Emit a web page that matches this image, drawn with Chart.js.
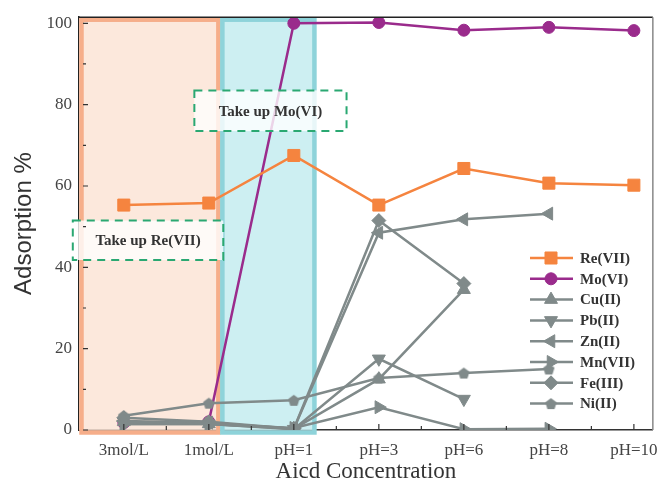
<!DOCTYPE html>
<html>
<head>
<meta charset="utf-8">
<script src="https://cdn.jsdelivr.net/npm/chart.js@4.4.0/dist/chart.umd.min.js"></script>
<style>
html, body { margin: 0; padding: 0; background: #fff; }
#wrap { width: 668px; height: 488px; }
</style>
</head>
<body>
<div id="wrap"><canvas id="c" width="668" height="488"></canvas></div>
<script>
// values
const categories = ['3mol/L', '1mol/L', 'pH=1', 'pH=3', 'pH=6', 'pH=8', 'pH=10'];
const reVII = [55.3, 55.8, 67.5, 55.3, 64.3, 60.7, 60.2];
const moVI  = [1.8, 2.0, 100, 100.2, 98.3, 99.0, 98.2];
const cuII  = [2.0, 1.5, 0.3, 12.5, 34.5, null, null];
const pbII  = [1.5, 1.5, 0.2, 17.5, 7.6, null, null];
const znII  = [2.2, 1.8, 0.3, 48.5, 51.8, 53.2, null];
const mnVII = [1.5, 1.5, 0.5, 5.6, 0.2, 0.3, null];
const feIII = [3.0, 2.0, 0.3, 51.5, 36.0, null, null];
const niII  = [3.5, 6.6, 7.3, 12.8, 14.0, 15.0, null];
const yTickValues = [0, 20, 40, 60, 80, 100];

const ORANGE = '#f5843f';
const PURPLE = '#9a2b8c';
const GRAY = '#808a8a';
const SERIF = '"Liberation Serif", "DejaVu Serif", serif';

function makePentagon(size, color) {
    const cv = document.createElement('canvas');
    cv.width = size; cv.height = size;
    const g = cv.getContext('2d');
    const r = size / 2;
    g.beginPath();
    for (let i = 0; i < 5; i++) {
        const a = -Math.PI / 2 + i * 2 * Math.PI / 5;
        const px = r + Math.cos(a) * (r - 0.5);
        const py = r + 0.6 + Math.sin(a) * (r - 0.5);
        if (i === 0) g.moveTo(px, py); else g.lineTo(px, py);
    }
    g.closePath();
    g.fillStyle = color;
    g.fill();
    return cv;
}

const toPoints = arr => arr.map((v, i) => ({ x: i, y: v }));

function series(label, values, color, style, radius, rotation, order) {
    return {
        label: label,
        data: toPoints(values),
        borderColor: color,
        backgroundColor: color,
        borderWidth: 2.5,
        pointStyle: style,
        pointRotation: rotation || 0,
        pointRadius: radius,
        pointHoverRadius: radius,
        pointBorderWidth: 1,
        tension: 0,
        spanGaps: false,
        order: order || 0
    };
}

const datasets = [
    series('Re(VII)', reVII, ORANGE, 'rect', 8.5),
    series('Mo(VI)', moVI, PURPLE, 'circle', 6, 0, 10),
    series('Cu(II)', cuII, GRAY, 'triangle', 7.5),
    series('Pb(II)', pbII, GRAY, 'triangle', 7.5, 180),
    series('Zn(II)', znII, GRAY, 'triangle', 7.5, 270),
    series('Mn(VII)', mnVII, GRAY, 'triangle', 7.5, 90),
    series('Fe(III)', feIII, GRAY, 'rectRot', 7),
    series('Ni(II)', niII, GRAY, makePentagon(13, GRAY), 6.5)
];

const X_MIN = -0.527, X_MAX = 6.223;
const xTickValues = [];
for (let v = 0; v <= 6; v += 0.5) xTickValues.push(v);

// shaded regions and annotation boxes (in data units)
const regions = [
    { x0: X_MIN, x1: 1.13, fill: 'rgba(252,228,214,0.85)', stroke: '#f6ae8a' },
    { x0: 1.13, x1: 2.26, fill: 'rgba(200,237,241,0.9)', stroke: '#8ed3da' }
];
const notes = [
    { text: 'Take up Mo(VI)', x0: 0.83, x1: 2.62, y0: 73.5, y1: 83.5 },
    { text: 'Take up Re(VII)', x0: -0.6, x1: 1.17, y0: 41.8, y1: 51.5 }
];

const regionPlugin = {
    id: 'regions',
    beforeDatasetsDraw(chart) {
        const { ctx, chartArea: a, scales: { x } } = chart;
        ctx.save();
        regions.forEach(r => {
            const l = x.getPixelForValue(r.x0), rt = x.getPixelForValue(r.x1);
            ctx.fillStyle = r.fill;
            ctx.fillRect(l, a.top, rt - l, a.bottom - a.top);
        });
        ctx.lineWidth = 4.5;
        regions.forEach(r => {
            const l = x.getPixelForValue(r.x0), rt = x.getPixelForValue(r.x1);
            ctx.strokeStyle = r.stroke;
            ctx.strokeRect(l + 2.5, a.top + 2.5, rt - l - 4, a.bottom - a.top);
        });
        ctx.restore();
    },
    afterDatasetsDraw(chart) {
        const { ctx, chartArea: a, scales: { x, y } } = chart;
        ctx.save();
        notes.forEach(n => {
            const l = x.getPixelForValue(n.x0), r = x.getPixelForValue(n.x1);
            const t = y.getPixelForValue(n.y1), b = y.getPixelForValue(n.y0);
            ctx.fillStyle = 'rgba(255,255,255,0.8)';
            ctx.fillRect(l, t, r - l, b - t);
            ctx.setLineDash([8, 6]);
            ctx.strokeStyle = '#2aa872';
            ctx.lineWidth = 2;
            ctx.strokeRect(l, t, r - l, b - t);
            ctx.setLineDash([]);
            ctx.fillStyle = '#333';
            ctx.font = 'bold 15px ' + SERIF;
            ctx.textAlign = 'center';
            ctx.textBaseline = 'middle';
            ctx.fillText(n.text, (l + r) / 2, (t + b) / 2 + 1);
        });

        // frame: top and right
        ctx.strokeStyle = '#222';
        ctx.lineWidth = 1.5;
        ctx.beginPath();
        ctx.moveTo(a.left, a.top);
        ctx.lineTo(a.right, a.top);
        ctx.stroke();
        ctx.strokeStyle = '#888';
        ctx.beginPath();
        ctx.moveTo(a.right, a.top);
        ctx.lineTo(a.right, a.bottom);
        ctx.stroke();

        // inward tick marks
        ctx.strokeStyle = '#333';
        ctx.lineWidth = 1.2;
        ctx.beginPath();
        for (let v = 0; v <= 100; v += 10) {
            const py = y.getPixelForValue(v);
            const len = v % 20 === 0 ? 5 : 3;
            ctx.moveTo(a.left + 4, py);
            ctx.lineTo(a.left + 4 + len, py);
        }
        xTickValues.forEach(v => {
            const px = x.getPixelForValue(v);
            const len = Number.isInteger(v) ? 6 : 4;
            ctx.moveTo(px, a.bottom);
            ctx.lineTo(px, a.bottom - len);
        });
        ctx.stroke();
        ctx.restore();
    },
    afterDraw(chart) {
        // legend: line + marker samples
        const { ctx } = chart;
        ctx.save();
        chart.data.datasets.forEach((ds, i) => {
            const yy = 258 + i * 20.8;
            ctx.strokeStyle = ds.borderColor;
            ctx.lineWidth = 2.5;
            ctx.beginPath();
            ctx.moveTo(530, yy);
            ctx.lineTo(573, yy);
            ctx.stroke();
            ctx.fillStyle = ds.backgroundColor;
            ctx.strokeStyle = ds.borderColor;
            ctx.lineWidth = 1;
            Chart.helpers.drawPoint(ctx, {
                pointStyle: ds.pointStyle,
                rotation: ds.pointRotation,
                radius: ds.pointRadius,
                borderWidth: 1
            }, 551, yy);
            ctx.fillStyle = '#333';
            ctx.font = 'bold 15px ' + SERIF;
            ctx.textAlign = 'left';
            ctx.textBaseline = 'middle';
            ctx.fillText(ds.label, 580, yy + 1);
        });
        ctx.restore();
    }
};

new Chart(document.getElementById('c'), {
    type: 'line',
    data: { datasets: datasets },
    options: {
        responsive: false,
        animation: false,
        layout: { padding: { top: 12, right: 13, left: 0, bottom: 0 } },
        plugins: {
            legend: { display: false },
            tooltip: { enabled: false }
        },
        scales: {
            x: {
                type: 'linear',
                min: X_MIN,
                max: X_MAX,
                afterBuildTicks: s => { s.ticks = xTickValues.map(v => ({ value: v })); },
                afterFit: s => { s.height = 58; },
                grid: { display: false, drawTicks: false },
                border: { display: true, color: '#333', width: 1.5 },
                ticks: {
                    autoSkip: false,
                    maxRotation: 0,
                    padding: 10,
                    color: '#444',
                    font: { family: SERIF, size: 17 },
                    callback: v => Number.isInteger(v) ? categories[v] : ''
                },
                title: {
                    display: true,
                    text: 'Aicd Concentration',
                    color: '#333',
                    font: { family: SERIF, size: 23 },
                    padding: { top: 0, bottom: 2 }
                }
            },
            y: {
                min: 0,
                max: 101.5,
                afterBuildTicks: s => { s.ticks = yTickValues.map(v => ({ value: v })); },
                afterFit: s => { s.width = 79; },
                grid: { display: false, drawTicks: false },
                border: { display: true, color: '#222', width: 1.5 },
                ticks: {
                    padding: 7,
                    color: '#444',
                    font: { family: SERIF, size: 17 }
                },
                title: {
                    display: true,
                    text: 'Adsorption %',
                    color: '#333',
                    font: { family: '"Liberation Sans", Arial, sans-serif', size: 24 },
                    padding: { top: 10, bottom: 0 }
                }
            }
        }
    },
    plugins: [regionPlugin]
});
</script>
</body>
</html>
